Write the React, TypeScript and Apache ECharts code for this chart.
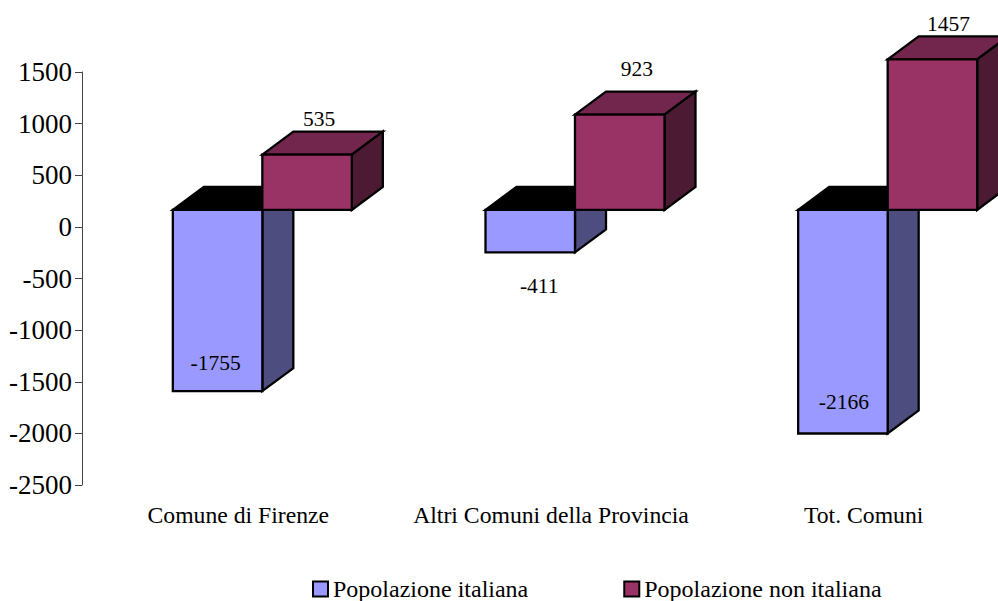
import React, { useEffect, useRef } from "react";
import * as echarts from "echarts";

const categories = ["Comune di Firenze", "Altri Comuni della Provincia", "Tot. Comuni"];
const italiana = [-1755, -411, -2166];
const nonItaliana = [535, 923, 1457];
const seriesNames = ["Popolazione italiana", "Popolazione non italiana"];

const FONT = '"Liberation Serif", serif';
const BAR_W = 89.5;
const DX = 31;
const DY = 23;
const FLOOR_SHIFT = 17;
const BAR_SHIFT = 24;

// Label position relative to the front face's centre / reference edge, per point.
const italianaLabelOffsets = [[-2, -28], [9, 34], [1, -32]];
const nonItalianaLabelOffsets = [[12, -36], [17, -46], [16, -35]];

type Look = { front: string; side: string; top: string; shift: number; offsets: number[][] };

const look = (c: Look) => (_params: any, api: any) => {
  const i = api.value(0);
  const v = api.value(1);
  const [cx, zero] = api.coord([i, 0]);
  const [, valY] = api.coord([i, v]);
  const base = zero - FLOOR_SHIFT;
  const end = valY - FLOOR_SHIFT;
  const x0 = cx + BAR_SHIFT + c.shift;
  const x1 = x0 + BAR_W;
  const yTop = Math.min(base, end);
  const yBot = Math.max(base, end);
  const line = { stroke: "#000", lineWidth: 2.3, lineJoin: "miter" };
  const [ox, oy] = c.offsets[i];
  return {
    type: "group",
    children: [
      {
        type: "polygon",
        shape: { points: [[x0, yTop], [x0 + DX, yTop - DY], [x1 + DX, yTop - DY], [x1, yTop]] },
        style: { fill: v < 0 ? "#000" : c.top, ...line },
      },
      {
        type: "polygon",
        shape: { points: [[x1, yTop], [x1 + DX, yTop - DY], [x1 + DX, yBot - DY], [x1, yBot]] },
        style: { fill: c.side, ...line },
      },
      {
        type: "rect",
        shape: { x: x0, y: yTop, width: BAR_W, height: yBot - yTop },
        style: { fill: c.front, ...line },
      },
      {
        type: "text",
        style: {
          text: String(v),
          x: x0 + BAR_W / 2 + ox,
          y: (v < 0 ? yBot : yTop) + oy,
          fill: "#000",
          font: `21.5px ${FONT}`,
          align: "center",
          verticalAlign: "middle",
        },
      },
    ],
  };
};

export default function App() {
  const ref = useRef<HTMLDivElement>(null);
  useEffect(() => {
    const chart = echarts.init(ref.current!, undefined, { renderer: "svg" });
    chart.setOption({
      animation: false,
      backgroundColor: "#fff",
      grid: { left: 82, top: 72, width: 938, height: 413, outerBoundsMode: "none" },
      xAxis: {
        type: "category",
        data: categories,
        position: "bottom",
        axisLine: { show: false },
        axisTick: { show: false },
        axisLabel: { color: "#000", fontFamily: FONT, fontSize: 23.7, margin: 18, hideOverlap: false, interval: 0 },
      },
      yAxis: {
        type: "value",
        min: -2500,
        max: 1500,
        interval: 500,
        splitLine: { show: false },
        axisLine: { show: true, lineStyle: { color: "#444", width: 1 } },
        axisTick: { show: true, length: 7, lineStyle: { color: "#444", width: 1 } },
        axisLabel: { color: "#000", fontFamily: FONT, fontSize: 27, margin: 10, formatter: (v: number) => String(v) },
      },
      legend: {
        left: 312,
        top: 577,
        padding: 0,
        itemWidth: 15,
        itemHeight: 15,
        itemGap: 95,
        icon: "rect",
        textStyle: { color: "#000", fontFamily: FONT, fontSize: 24 },
        data: seriesNames,
      },
      series: [
        {
          type: "custom",
          name: seriesNames[0],
          clip: false,
          renderItem: look({ front: "#9999ff", side: "#4d4d80", top: "#000000", shift: -BAR_W, offsets: italianaLabelOffsets }),
          itemStyle: { color: "#9999ff", borderColor: "#000", borderWidth: 2 },
          encode: { x: 0, y: 1 },
          data: italiana.map((v, i) => [i, v]),
        },
        {
          type: "custom",
          name: seriesNames[1],
          clip: false,
          renderItem: look({ front: "#993366", side: "#4d1a33", top: "#73264d", shift: 0, offsets: nonItalianaLabelOffsets }),
          itemStyle: { color: "#993366", borderColor: "#000", borderWidth: 2 },
          encode: { x: 0, y: 1 },
          data: nonItaliana.map((v, i) => [i, v]),
        },
      ],
    });
    return () => chart.dispose();
  }, []);
  return <div ref={ref} style={{ position: "absolute", left: 0, top: 0, width: 998, height: 601 }} />;
}
